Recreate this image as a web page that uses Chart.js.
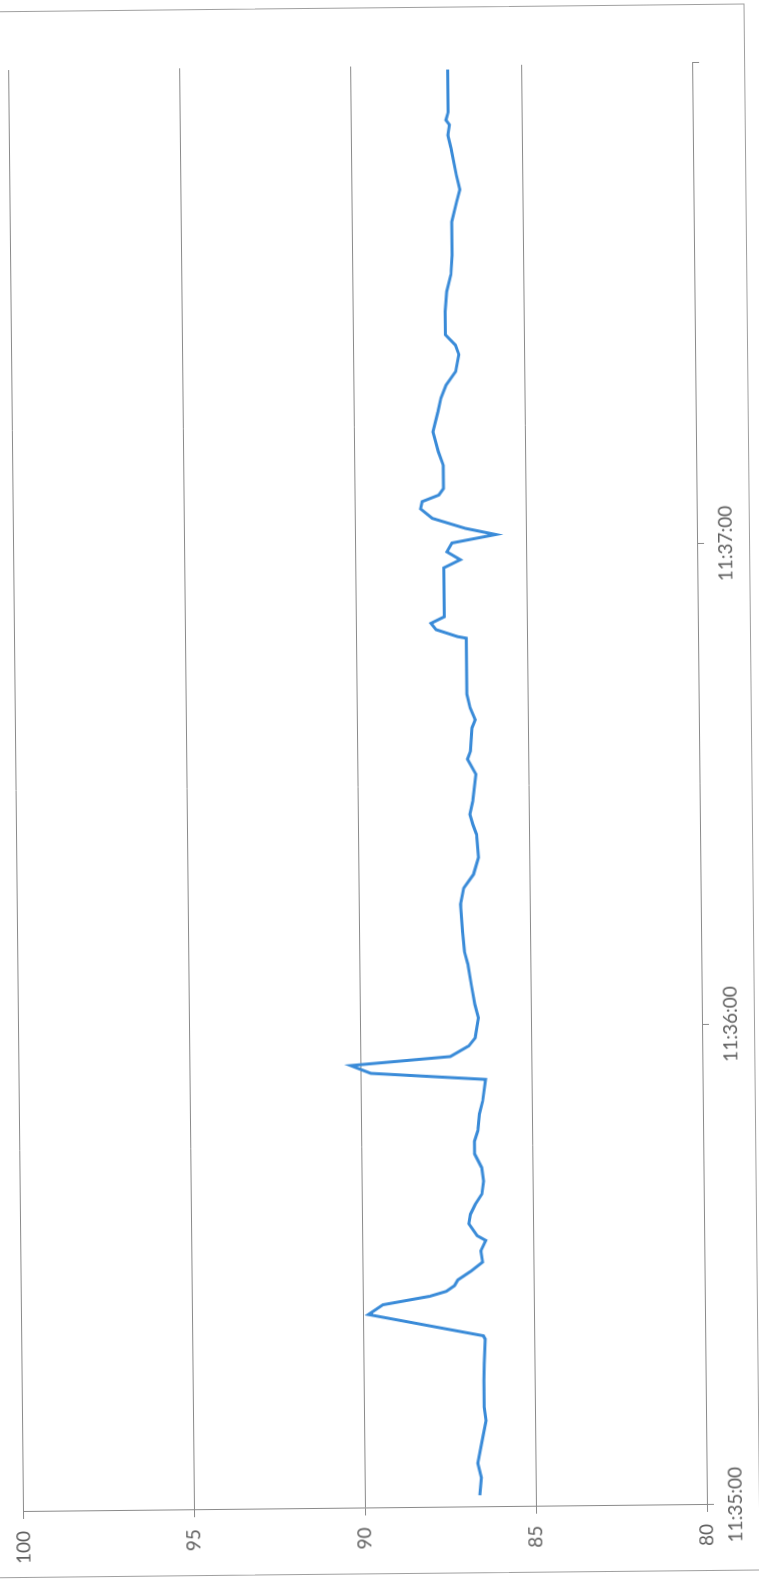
<!DOCTYPE html>
<html>
<head>
<meta charset="utf-8">
<script src="https://cdn.jsdelivr.net/npm/chart.js@4.4.1/dist/chart.umd.min.js"></script>
<style>
  html, body { margin: 0; padding: 0; background: #fff; overflow: hidden; }
  /* the scanned chart lies on its side, slightly skewed */
  #page {
    position: absolute; left: 0; top: 0; width: 1580px; height: 759px;
    transform-origin: 0 0;
    transform: translate(22px, 1512px) rotate(-0.59deg) translate(-22px, -1512px) translateY(1580px) rotate(-90deg);
  }
  #frame { position: absolute; left: 2px; top: -10px; width: 1565px; height: 768px; border: 1px solid #a0a0a0; }
  canvas { position: absolute; left: 0; top: 0; }
</style>
</head>
<body>
<div id="page">
  <div id="frame"></div>
  <canvas id="chart" width="1580" height="759"></canvas>
</div>
<script>
// seconds after 11:35:00
const seconds = [1.5, 3.7, 5.5, 8.7, 10.8, 12.5, 15.8, 17.9, 21.0, 21.4,
  24.2, 25.4, 26.4, 27.0, 27.7, 28.4, 29.5, 30.6, 32.0, 33.3,
  33.9, 35.4, 36.6, 37.8, 39.1, 40.7, 42.4, 44.1, 45.7, 47.0,
  49.1, 50.7, 53.4, 54.3, 55.3, 56.3, 57.6, 58.6, 61.1, 62.8,
  65.3, 67.8, 69.4, 71.9, 75.3, 77.3, 79.0, 81.1, 84.0, 85.2,
  86.5, 88.1, 91.5, 93.4, 94.4, 97.3, 98.3, 99.8, 101.5, 108.5,
  108.7, 109.6, 110.4, 111.2, 117.3, 118.3, 119.3, 120.4, 121.4, 122.2,
  123.5, 124.7, 125.6, 126.4, 127.2, 130.1, 131.8, 134.3, 136.8, 138.5,
  140.1, 141.8, 143.9, 145.1, 146.4, 149.3, 151.8, 153.9, 156.3, 158.0,
  160.5, 163.0, 164.5, 166.3, 169.7, 171.3, 172.6, 173.2, 174.2, 179.5];

const values = [86.64, 86.59, 86.69, 86.54, 86.44, 86.49, 86.49, 86.47, 86.44, 86.49,
  89.85, 89.42, 88.05, 87.56, 87.32, 87.22, 86.83, 86.49, 86.54, 86.39,
  86.64, 86.88, 86.83, 86.69, 86.49, 86.44, 86.49, 86.69, 86.69, 86.59,
  86.54, 86.44, 86.35, 89.7, 90.29, 87.37, 86.83, 86.64, 86.54, 86.64,
  86.74, 86.83, 86.93, 86.98, 87.03, 86.93, 86.64, 86.49, 86.54, 86.64,
  86.73, 86.64, 86.54, 86.78, 86.69, 86.64, 86.54, 86.69, 86.78, 86.78,
  87.03, 87.66, 87.81, 87.42, 87.42, 86.93, 87.32, 87.17, 85.89, 86.77,
  87.74, 88.08, 88.03, 87.54, 87.40, 87.40, 87.54, 87.69, 87.54, 87.45,
  87.30, 87.01, 86.91, 87.01, 87.30, 87.30, 87.25, 87.12, 87.08, 87.08,
  87.08, 86.93, 86.83, 86.93, 87.08, 87.17, 87.12, 87.22, 87.15, 87.15];

const timeTicks = [0, 60, 120, 180];
const timeLabels = ['11:35:00', '11:36:00', '11:37:00', ''];

const gridColor = '#8a8a8a';
const tickFont = { family: 'Lato', size: 19 };
const tickColor = '#606060';

const ctx = document.getElementById('chart').getContext('2d');
const chart = new Chart(ctx, {
  type: 'line',
  data: {
    datasets: [{
      data: seconds.map((s, i) => ({ x: s, y: values[i] })),
      borderColor: '#3a8bd8',
      borderWidth: 3,
      pointRadius: 0,
      tension: 0,
    }],
  },
  options: {
    responsive: false,
    animation: false,
    layout: { padding: { top: 22, right: 70, left: 0, bottom: 0 } },
    plugins: { legend: { display: false }, tooltip: { enabled: false } },
    scales: {
      x: {
        type: 'linear',
        min: 0,
        max: 180,
        afterBuildTicks: (axis) => { axis.ticks = timeTicks.map((v) => ({ value: v })); },
        ticks: {
          callback: (v) => timeLabels[timeTicks.indexOf(v)],
          font: tickFont, color: tickColor, padding: 10, maxRotation: 0, autoSkip: false,
        },
        grid: { drawOnChartArea: false, tickLength: 7, color: gridColor },
        border: { color: gridColor, width: 1 },
        afterFit: (axis) => { axis.height = 52; },
      },
      y: {
        min: 80,
        max: 100,
        ticks: { stepSize: 5, font: tickFont, color: tickColor, padding: 12 },
        grid: { color: gridColor, tickLength: 7, lineWidth: 1 },
        border: { color: gridColor, width: 1 },
        afterFit: (axis) => { axis.width = 68; },
      },
    },
  },
});
</script>
</body>
</html>
